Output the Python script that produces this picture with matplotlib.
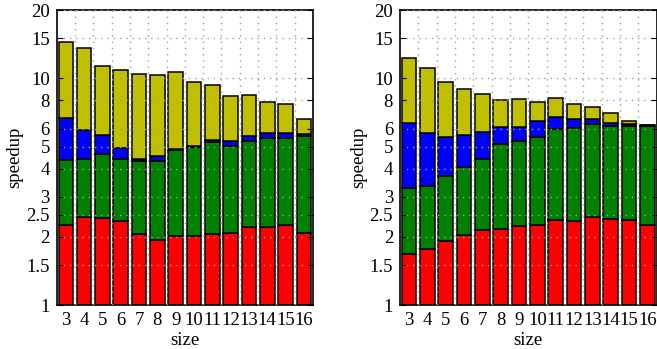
import numpy as np
import matplotlib
matplotlib.use("Agg")
import matplotlib.pyplot as plt
from matplotlib.ticker import FixedLocator, NullFormatter

# --- datos: tope acumulado de cada tramo (rojo, verde, azul, amarillo) ---------
sizes = list(range(3, 17))

left_red = [2.25, 2.44, 2.41, 2.35, 2.06, 1.93, 2.01, 2.01, 2.05, 2.08, 2.22, 2.21, 2.25, 2.08]
left_green = [4.35, 4.41, 4.62, 4.39, 4.32, 4.30, 4.81, 4.99, 5.22, 5.01, 5.29, 5.44, 5.45, 5.57]
left_blue = [6.70, 5.90, 5.62, 4.91, 4.39, 4.53, 4.88, 5.03, 5.34, 5.29, 5.56, 5.75, 5.75, 5.70]
left_yellow = [14.46, 13.56, 11.37, 10.91, 10.45, 10.34, 10.66, 9.66, 9.34, 8.38, 8.47, 7.88, 7.68, 6.61]

right_red = [1.68, 1.77, 1.92, 2.04, 2.15, 2.16, 2.23, 2.26, 2.36, 2.35, 2.45, 2.40, 2.36, 2.25]
right_green = [3.27, 3.35, 3.71, 4.05, 4.42, 5.15, 5.29, 5.49, 5.99, 6.05, 6.27, 6.16, 6.18, 6.16]
right_blue = [6.33, 5.74, 5.53, 5.64, 5.80, 6.10, 6.12, 6.48, 6.77, 6.63, 6.65, 6.35, 6.27, 6.20]
right_yellow = [12.29, 11.10, 9.63, 8.94, 8.50, 8.02, 8.07, 7.88, 8.19, 7.70, 7.45, 7.05, 6.46, 6.22]

yticks = [1, 1.5, 2, 2.5, 3, 4, 5, 6, 8, 10, 15, 20]
ytick_labels = ["1", "1.5", "2", "2.5", "3", "4", "5", "6", "8", "10", "15", "20"]
colors = ["#ff0000", "#008000", "#0000ff", "#c0c000"]

plt.rcParams["font.family"] = ["Liberation Serif", "DejaVu Serif"]
plt.rcParams["font.size"] = 13.5


def draw_panel(ax, layers):
    x = np.array(sizes)
    bottom = np.ones(len(sizes))
    for tops, c in zip(layers, colors):
        tops = np.array(tops)
        ax.bar(x, tops - bottom, bottom=bottom, width=0.8, color=c,
               edgecolor="black", linewidth=1.1, zorder=1)
        bottom = tops
    ax.set_yscale("log")
    ax.set_ylim(1, 20)
    ax.set_xlim(2.5, 16.5)
    ax.yaxis.set_major_locator(FixedLocator(yticks))
    ax.set_yticklabels(ytick_labels)
    ax.yaxis.set_minor_formatter(NullFormatter())
    ax.yaxis.set_minor_locator(FixedLocator([]))
    ax.set_xticks(sizes)
    ax.set_xticklabels([str(s) for s in sizes])
    ax.xaxis.set_minor_locator(FixedLocator([s + 0.5 for s in sizes[:-1]]))
    ax.tick_params(axis="y", which="major", direction="in", length=4,
                   left=True, right=True, pad=5)
    ax.tick_params(axis="x", which="both", length=0, pad=5)
    ax.set_axisbelow(False)
    ax.grid(axis="y", which="major", color="#a0a0a0", linestyle=(0, (1, 3.5)), linewidth=1)
    ax.grid(axis="x", which="minor", color="#a0a0a0", linestyle=(0, (1, 3.5)), linewidth=1)
    for sp in ax.spines.values():
        sp.set_linewidth(1.2)
    ax.set_xlabel("size", labelpad=2)
    ax.set_ylabel("speedup", labelpad=2)


fig = plt.figure(figsize=(6.57, 3.49), dpi=100)
ax1 = fig.add_axes([0.0863, 0.126, 0.3901, 0.845])
ax2 = fig.add_axes([0.6088, 0.126, 0.3905, 0.845])
draw_panel(ax1, [left_red, left_green, left_blue, left_yellow])
draw_panel(ax2, [right_red, right_green, right_blue, right_yellow])

fig.savefig("out.png", dpi=100)
